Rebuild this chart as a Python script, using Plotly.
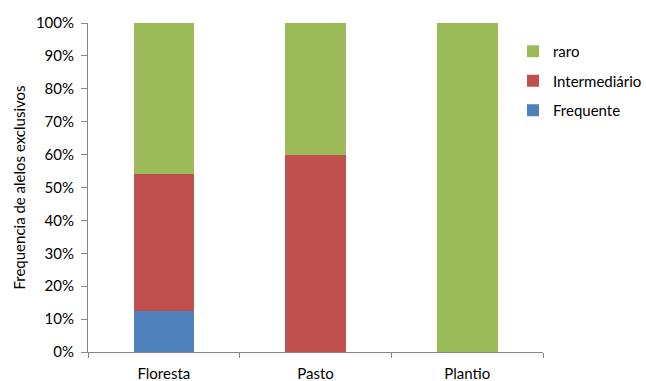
import plotly.graph_objects as go

categories = ["Floresta", "Pasto", "Plantio"]
frequente = [12.5, 0, 0]
intermediario = [41.67, 60, 0]
raro = [45.83, 40, 100]
tick_vals = [0, 10, 20, 30, 40, 50, 60, 70, 80, 90, 100]
tick_text = [f"{v}%" for v in tick_vals]

FONT = "Lato"
W, H = 646, 381
fig = go.Figure()
series = [
    ("Frequente", frequente, "#4F81BD", 3),
    ("Intermediário", intermediario, "#C0504D", 2),
    ("raro", raro, "#9BBB59", 1),
]
for name, vals, col, rank in series:
    fig.add_trace(go.Bar(
        x=categories, y=vals, name=name, legendgroup=name, legendrank=rank,
        marker=dict(color=col, line=dict(width=0)),
    ))

fig.update_layout(
    barmode="stack",
    bargap=0.6,
    width=W, height=H,
    margin=dict(l=88, r=103, t=23, b=29, autoexpand=False),
    plot_bgcolor="white", paper_bgcolor="white",
    font=dict(family=FONT, size=15, color="#000000"),
    legend=dict(
        traceorder="grouped", tracegroupgap=7,
        xref="container", x=513 / W, xanchor="left",
        yref="container", y=1 - 35 / H, yanchor="top",
        font=dict(family=FONT, size=15),
        itemwidth=30,
    ),
    showlegend=True,
)
fig.update_yaxes(
    range=[0, 100], tickvals=tick_vals, ticktext=tick_text,
    showgrid=False, zeroline=False,
    showline=True, linecolor="#868686", linewidth=1,
    ticks="outside", ticklen=6, tickcolor="#868686",
    tickfont=dict(size=15), ticklabelstandoff=4,
    automargin=False,
    title=dict(text="Frequencia de alelos exclusivos", font=dict(size=15), standoff=6),
)
fig.update_xaxes(
    showgrid=False, showline=True, linecolor="#868686", linewidth=1,
    ticks="outside", tickson="boundaries", ticklen=5, tickcolor="#868686",
    tickfont=dict(size=15), ticklabelstandoff=8, automargin=False,
)
fig.write_html("out.html")
